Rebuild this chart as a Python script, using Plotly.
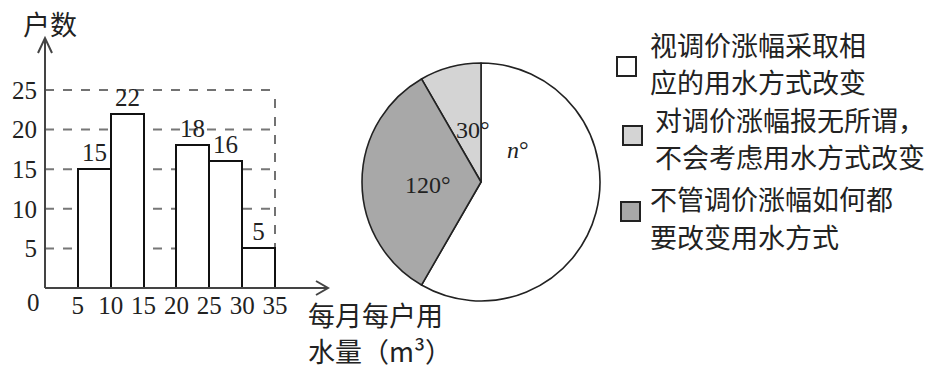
import plotly.graph_objects as go

# ---------------- data ----------------
bar_left_edges = [5, 10, 20, 25, 30]
bar_counts = [15, 22, 18, 16, 5]
bin_width = 5
x_tick_vals = [5, 10, 15, 20, 25, 30, 35]
y_tick_vals = [5, 10, 15, 20, 25]
y_axis_title = "户数"
x_axis_title_lines = ["每月每户用", "水量（m³）"]

# pie (plotly draws the first slice just clockwise of 12 o'clock, the rest counterclockwise)
pie_angles = [210, 30, 120]
pie_angle_text = ["<i>n</i>°", "30°", "120°"]
pie_colors = ["#ffffff", "#d4d4d4", "#a8a8a8"]
pie_names = ["视调价涨幅采取相应的用水方式改变",
             "对调价涨幅报无所谓，不会考虑用水方式改变",
             "不管调价涨幅如何都要改变用水方式"]

legend_lines = [
    ["视调价涨幅采取相", "应的用水方式改变"],
    ["对调价涨幅报无所谓，", "不会考虑用水方式改变"],
    ["不管调价涨幅如何都", "要改变用水方式"],
]

# ---------------- layout helpers ----------------
W, H = 935, 370
def px(x): return x / W
def py(y): return 1 - y / H

X0PX, X35PX = 45, 275
XS = (X35PX - X0PX) / 35.0
Y0PX, Y25PX = 288, 90
YS = (Y0PX - Y25PX) / 25.0
XDOM = [0, 0.4]
xr = [-X0PX / XS, (XDOM[1] * W - X0PX) / XS]
yr = [-(H - Y0PX) / YS, Y0PX / YS]

SERIF = "Liberation Serif"
CJK = "Noto Sans CJK SC"
TXT = "#222"

fig = go.Figure()

fig.add_trace(go.Bar(
    x=[l + bin_width / 2 for l in bar_left_edges], y=bar_counts, width=bin_width,
    marker=dict(color="white", line=dict(color="#111", width=2)),
    text=[str(v) for v in bar_counts], textposition="outside",
    textfont=dict(family=SERIF, size=25, color=TXT),
    cliponaxis=False, showlegend=False, hoverinfo="x+y",
))

fig.add_trace(go.Pie(
    values=pie_angles, labels=pie_names, sort=False, direction="counterclockwise",
    rotation=0, marker=dict(colors=pie_colors, line=dict(color="#222", width=1.6)),
    textinfo="none", showlegend=False,
    domain=dict(x=[px(362), px(600)], y=[py(301), py(63)]),
))

shapes = []
for v in y_tick_vals:
    shapes.append(dict(type="line", xref="x", yref="y", x0=0, x1=35, y0=v, y1=v,
                       line=dict(color="#777" if v != 25 else "#444",
                                 width=2 if v != 25 else 1.5, dash="dash"),
                       layer="below"))
shapes.append(dict(type="line", xref="x", yref="y", x0=35, x1=35, y0=0, y1=25,
                   line=dict(color="#444", width=1.5, dash="dash"), layer="below"))
ytip = (Y0PX - 38) / YS
xtip = (328 - X0PX) / XS
shapes.append(dict(type="line", xref="x", yref="y", x0=0, x1=0, y0=0, y1=ytip,
                   line=dict(color="#444", width=2)))
shapes.append(dict(type="line", xref="x", yref="y", x0=0, x1=xtip, y0=0, y1=0,
                   line=dict(color="#444", width=2)))
shapes.append(dict(type="path", xref="x", yref="y",
                   path=f"M {-7/XS},{ytip-15/YS} L 0,{ytip} L {7/XS},{ytip-15/YS}",
                   line=dict(color="#444", width=2)))
shapes.append(dict(type="path", xref="x", yref="y",
                   path=f"M {xtip-12/XS},{7/YS} L {xtip},0 L {xtip-12/XS},{-7/YS}",
                   line=dict(color="#444", width=2)))

box_pos = [(617, 57), (623, 126), (621, 202)]
for (bx, by), c in zip(box_pos, pie_colors):
    shapes.append(dict(type="rect", xref="paper", yref="paper",
                       x0=px(bx), x1=px(bx + 19), y0=py(by + 19), y1=py(by),
                       fillcolor=c, line=dict(color="#222", width=2)))

def note(x, y, text, family, size, xanchor="center"):
    return dict(x=px(x), y=py(y), xref="paper", yref="paper", text=text,
                xanchor=xanchor, yanchor="middle", align="left", showarrow=False,
                borderpad=0, font=dict(family=family, size=size, color=TXT))

LINE = 37
ann = []
ann.append(note(50, 23, y_axis_title, CJK, 27))
ann.append(note(33, 302, "0", SERIF, 25))
for j, t in enumerate(x_axis_title_lines):
    ann.append(note(307, 314 + 36 * j, t, CJK, 27, "left"))
for t, (ax, ay) in zip(pie_angle_text, [(518, 150), (473, 130), (428, 185)]):
    ann.append(note(ax, ay, t, SERIF, 24))
for (tx, ty), lines in zip([(649, 44), (654, 119), (649, 199)], legend_lines):
    for j, t in enumerate(lines):
        ann.append(note(tx, ty + LINE * j, t, CJK, 27, "left"))

fig.update_layout(
    width=W, height=H, margin=dict(l=0, r=0, t=0, b=0),
    paper_bgcolor="white", plot_bgcolor="rgba(0,0,0,0)",
    shapes=shapes, annotations=ann, bargap=0,
    xaxis=dict(domain=XDOM, range=xr, anchor="free", position=py(Y0PX),
               tickvals=x_tick_vals, ticktext=[str(v) for v in x_tick_vals],
               showline=False, showgrid=False, zeroline=False, ticks="",
               tickfont=dict(family=SERIF, size=25, color=TXT)),
    yaxis=dict(domain=[0, 1], range=yr, anchor="free", position=px(X0PX),
               tickvals=y_tick_vals, ticktext=[str(v) for v in y_tick_vals],
               showline=False, showgrid=False, zeroline=False, ticks="",
               ticklabelstandoff=8,
               tickfont=dict(family=SERIF, size=25, color=TXT)),
)

fig.write_html("out.html")
